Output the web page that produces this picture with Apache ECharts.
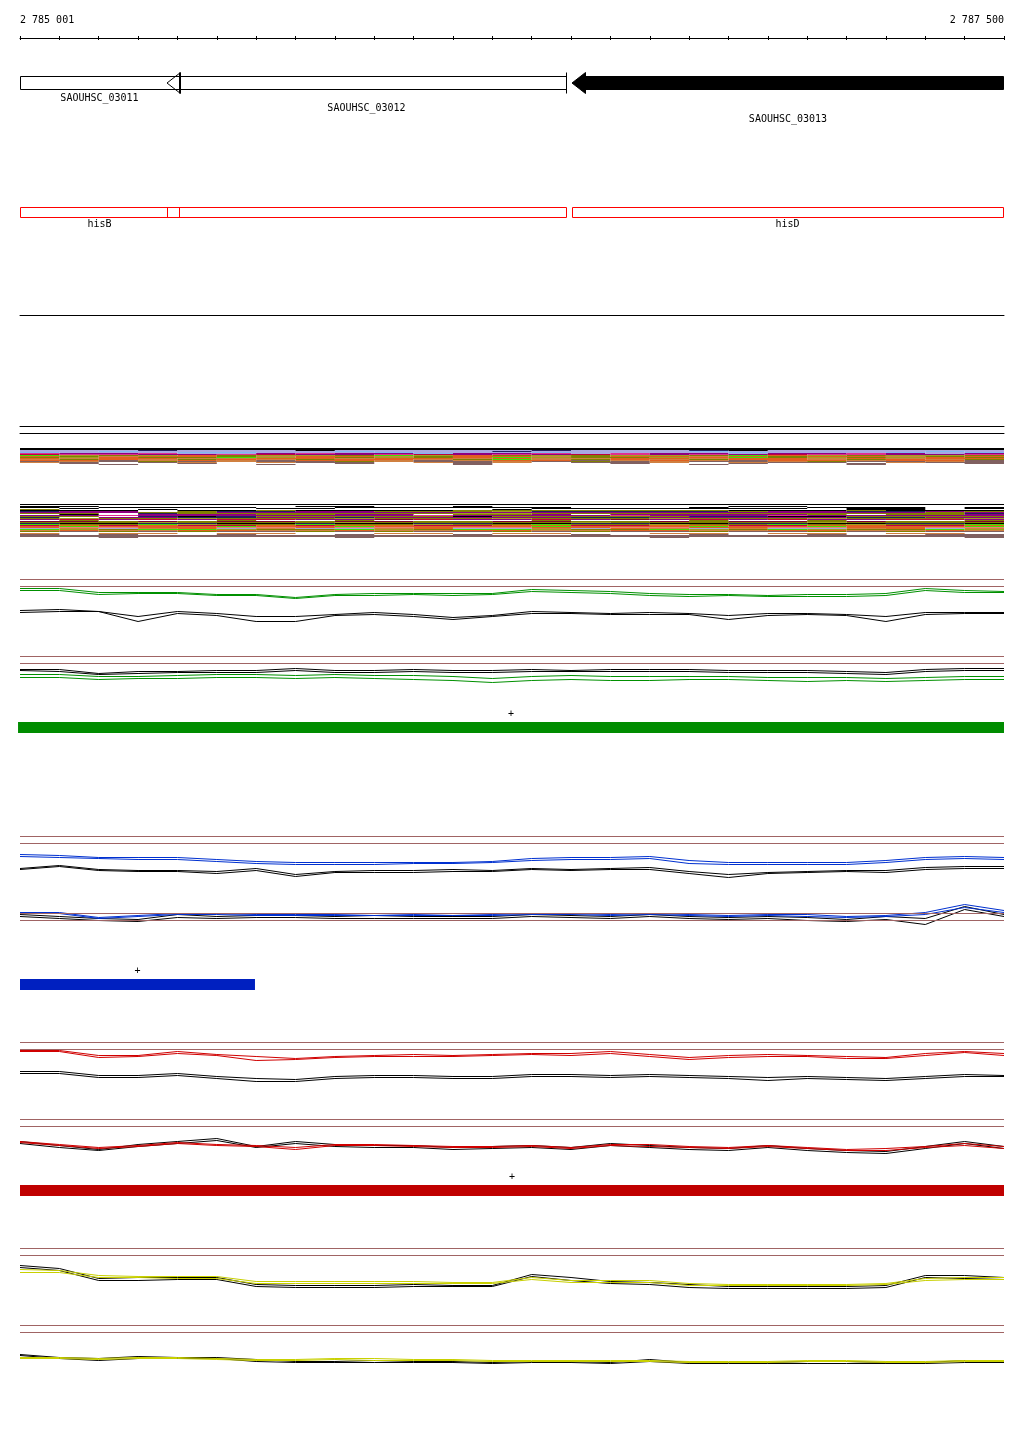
<!DOCTYPE html>
<html><head><meta charset="utf-8">
<script src="https://cdn.jsdelivr.net/npm/echarts@6/dist/echarts.min.js"></script>
<style>html,body{margin:0;padding:0;background:#fff}#c{width:1024px;height:1435px}</style>
</head><body><div id="c"></div><script>
// ---------- region / ruler ----------
const regionStart = 2785000, regionEnd = 2787500;
const rulerLabels = ['2 785 001', '2 787 500'];

// ---------- genes ----------
const geneNames = ['SAOUHSC_03011', 'SAOUHSC_03012', 'SAOUHSC_03013'];
const geneStart = [2784900, 2785373, 2786402];
const geneEnd = [2785405, 2786387, 2787700];
const geneFilled = [0, 0, 1];
const geneLabelLane = [0, 1, 2];

// ---------- features (red boxes) ----------
const featureNames = ['hisB', '', 'hisD'];
const featureStart = [2784900, 2785373, 2786402];
const featureEnd = [2785405, 2786387, 2787700];

// ---------- strand bars ----------
const greenBar = [2784995, 2787500];
const blueBar = [2785000, 2785597];
const redBar = [2785000, 2787500];

// ---------- sampled positions for the profile lines ----------
const samplePos = [2785000,2785100,2785200,2785300,2785400,2785500,2785600,2785700,2785800,2785900,2786000,2786100,2786200,2786300,2786400,2786500,2786600,2786700,2786800,2786900,2787000,2787100,2787200,2787300,2787400,2787500];
const refLineLevels = [10, 17];

// green track, upper panel
const gUpColA = [19,19,23,23,23,25,25,28,25,24,24,24,24,20,21,22,24,25,25,26,25,25,24,19,21,22];
const gUpColB = [21,21,25,24,24,26,26,29,26,26,25,26,25,22,23,24,26,27,26,27,27,27,26,21,23,23];
const gUpBlkA = [41,40,42,47,42,44,47,47,45,43,45,48,46,42,43,44,43,44,46,44,44,45,47,43,43,43];
const gUpBlkB = [43,42,42,52,44,46,52,52,46,45,47,50,47,44,44,45,45,45,50,46,45,46,52,45,44,44];
// green track, lower panel
const gLoBlkA = [23,23,27,25,25,24,24,22,24,24,23,24,24,23,24,23,23,23,24,24,24,25,26,23,22,22];
const gLoBlkB = [24,25,28,27,26,26,26,24,26,26,25,26,26,25,25,25,25,25,26,26,26,27,28,25,24,24];
const gLoColA = [28,28,30,30,29,28,28,29,28,29,29,30,32,30,29,30,30,30,30,31,31,31,32,31,30,30];
const gLoColB = [31,31,33,32,32,31,31,32,31,32,33,34,36,34,33,34,34,33,33,34,35,34,35,34,33,33];
// blue track
const bUpColA = [28,29,31,31,31,33,35,36,36,36,36,36,35,32,31,31,30,34,36,36,36,36,34,31,30,31];
const bUpColB = [30,31,32,33,33,35,37,38,38,38,37,37,36,34,33,33,32,37,38,38,38,38,36,33,32,33];
const bUpBlkA = [42,39,43,44,44,45,42,48,45,44,44,43,44,42,43,42,41,45,48,46,45,44,44,41,40,40];
const bUpBlkB = [43,40,44,45,45,47,44,50,46,46,46,45,45,43,44,43,43,47,51,47,46,45,46,43,42,42];
const bLoColA = [9,9,14,12,10,10,11,11,11,10,11,10,11,10,10,11,10,11,12,11,11,13,12,9,1,7];
const bLoColB = [10,10,15,13,11,11,12,12,12,12,12,12,12,11,11,12,11,12,13,12,13,14,13,11,4,9];
const bLoBlkA = [11,13,15,16,11,13,12,12,13,12,13,13,13,11,12,13,11,13,14,13,14,16,13,15,3,11];
const bLoBlkB = [13,15,17,18,14,15,14,14,15,15,15,15,15,13,14,15,13,15,16,15,17,18,16,21,6,13];
// red track
const rUpColA = [18,18,23,23,19,22,24,26,24,23,22,23,22,21,21,19,22,25,23,22,23,24,25,21,19,21];
const rUpColB = [19,19,25,24,21,23,28,27,25,24,24,24,23,22,23,21,24,27,25,24,24,26,26,23,20,23];
const rUpBlkA = [39,39,43,43,41,44,46,47,44,43,43,44,44,42,42,43,42,43,44,45,44,45,46,44,42,43];
const rUpBlkB = [41,41,45,45,43,46,49,49,46,45,45,46,46,44,44,45,44,45,46,48,46,47,48,46,44,44];
const rLoColA = [32,35,38,36,33,35,36,38,35,35,36,37,37,36,38,35,35,37,38,36,38,40,39,37,34,37];
const rLoColB = [33,36,39,37,34,36,37,40,36,36,37,38,38,37,39,36,37,38,39,37,39,41,41,38,36,39];
const rLoBlkA = [32,36,40,35,32,29,37,32,35,36,36,38,37,36,38,34,36,38,39,36,39,41,42,37,32,37];
const rLoBlkB = [34,38,41,37,34,31,38,34,37,38,38,40,39,38,40,36,38,40,41,38,41,43,44,39,34,39];
// yellow track
const yUpColA = [31,32,37,38,38,38,43,43,43,43,43,44,44,39,42,42,42,45,46,46,46,46,45,40,39,39];
const yUpColB = [34,34,39,39,40,40,45,45,45,45,45,45,45,41,44,44,44,47,47,47,47,47,46,42,41,41];
const yUpBlkA = [27,30,40,39,39,39,46,47,47,47,46,47,47,36,39,43,44,46,48,48,48,48,47,37,37,39];
const yUpBlkB = [29,32,42,42,41,41,48,49,49,49,48,48,48,38,42,45,46,49,50,50,50,50,49,39,40,41];
const yLoBlkA = [39,42,43,41,42,42,44,46,46,45,46,46,47,46,46,47,44,47,47,47,46,46,47,47,45,46];
const yLoBlkB = [40,43,45,43,43,43,46,47,47,47,47,47,48,47,47,48,46,48,48,48,48,48,48,48,47,47];
const yLoColA = [42,42,43,42,42,43,44,44,43,43,44,44,45,45,45,45,45,46,46,46,45,45,46,46,45,45];
const yLoColB = [43,43,44,43,43,44,45,45,44,45,45,45,46,46,46,46,46,47,47,47,46,46,47,47,46,46];

// ---------- multi-sample stripe bands (one char per 100 bp, one row per line) ----------
const bandOneRows = [
 'kkkkkkkkkkkkkkkkkkkkkkkkk',
 'kkkkkkkkkkkkkkkkkkkkkkkkk',
 'lllnlllklllllnlllnkllllll',
 'llslllllslllnllllslllllsl',
 'slllsslllslllsllllslllsls',
 'pmmpllmpmmsmmplpmmlmmpmlm',
 'rppmmprmmprmpmrpmpmrppmmp',
 'gyoyeoyyogyeoyoyyogeyoyyo',
 'eoteeoteetoeetoeeteoeetoe',
 'oyeoogyeoyoegyooyegoyoyeo',
 'eteetteeteetetteeteetetee',
 'toetoetoeetogtoetoeetoeto',
 'eebtetbeetbteebtetbeeteeb',
 'btbobtbbotbbtbobtbbtobbtb',
 'tb.bt.tbb.tbt.bbt.tbb.tbb',
 '.b..b...b..b...b..b..b..b',
 '..b...b....b.....b...b...'
];
const bandTwoRows = [
 'kkkkkkkkkkkkkkkkkkkkkkkkk',
 '.........................',
 'kk.....kk..k......kk.....',
 'k.kkkk..kkkkkk...k..kkk.k',
 '.k....kk.....kkkkkkk.kk.k',
 'o..k........k........kk..',
 'kkk.kkokkkkoooooookkkokkk',
 'nmm.onnmmoooynnnnnommnnmo',
 'mmmoommmmmmmmmmmmmmmmmmom',
 'oo.noooooooyyooooooooooon',
 '.k.mmmoomm.oom.mmmmmo.oom',
 'mmpmmmmmmmpmmmmpmmmpmmmmm',
 'oo.nknoooookooooonnkkoooo',
 'n.mmnnmmnmmmmmnnmmmmmnnmm',
 'oyooyoooyoooyoooyoooyoooy',
 'mrmrmrrmmdrmmrmdmrmrmmrrm',
 '.o...o..o....o...o..o...o',
 'ddododdoddooddoododdodood',
 'oooyooooyoooooyoooooyoooo',
 'nkknnkknkknnkknnkknnkknnk',
 'googyoogooyoogooyoogoyoog',
 'rererrereerreerreerreerre',
 'egeeegeegeeeegeeegeegeeeg',
 'ecceecceccecceecceecceecc',
 'ltlteltlltelltletltlltelt',
 'gyoggyoogyoggyoogyogyoogy',
 'tetteettetteetteetteettet',
 'obobobbobobbobobbobbobobb',
 '.........................',
 't.tt.tt..tt.tt..tt.tt.tt.',
 'b.b..b..b..b..b..b..b..bb',
 'bbbbbbbbbbbbbbbbbbbbbbbbb',
 'bbbbbbbbbbbbbbbbbbbbbbbbb',
 '..b.....b.......b.......b',
 '.........................'
];
const bandColors = {k:'#000000',n:'#202060',l:'#a8a8e0',s:'#80b8f0',m:'#900080',p:'#e03090',r:'#c00040',d:'#800030',o:'#808000',y:'#a0a020',g:'#40e000',e:'#e06020',c:'#f08070',t:'#d08040',b:'#806060'};

// ---------- styles ----------
const FONT = '10px "DejaVu Sans Mono", monospace';
const BROWN = '#a06464';
const GREEN_L = '#009000', BLUE_L = '#0030d0', RED_L = '#d00000', YEL_L = '#c8d000';
const GREEN_B = '#008c00', BLUE_B = '#0020c0', RED_B = '#c00000';

const grids = [], xAxes = [], yAxes = [], series = [];
function hiddenX(gi) { return {type:'value', gridIndex:gi, min:regionStart, max:regionEnd, show:false}; }
function lineAxis(gi, pos) {
  return {type:'value', gridIndex:gi, position:pos, min:regionStart, max:regionEnd,
    axisLine:{show:true, onZero:false, lineStyle:{color:'#000', width:1}}, axisTick:{show:false}, axisLabel:{show:false}, splitLine:{show:false}};
}
function addGrid(top, height, yMin, yMax, inverse) {
  const gi = grids.length;
  grids.push({left:20, right:20, top:top, height:height});
  xAxes.push(hiddenX(gi));
  yAxes.push({type:'value', gridIndex:gi, min:yMin, max:yMax, inverse:!!inverse, show:false});
  return {gi:gi, xi:xAxes.length-1, yi:yAxes.length-1};
}

// ruler
(function(){
  const gi = grids.length;
  grids.push({left:20, right:20, top:36, height:2});
  xAxes.push({type:'value', gridIndex:gi, position:'bottom', min:regionStart, max:regionEnd, interval:100,
    axisLine:{show:true, onZero:false, lineStyle:{color:'#000', width:1}}, axisTick:{show:true, length:2, lineStyle:{color:'#000'}},
    axisLabel:{show:false}, splitLine:{show:false}});
  xAxes.push({type:'value', gridIndex:gi, position:'top', min:regionStart, max:regionEnd, interval:100,
    axisLine:{show:false, onZero:false}, axisTick:{show:true, inside:true, length:2, lineStyle:{color:'#000'}},
    axisLabel:{show:true, margin:11, color:'#000', fontFamily:'"DejaVu Sans Mono", monospace', fontSize:10,
      showMinLabel:true, showMaxLabel:true, alignMinLabel:'left', alignMaxLabel:'right',
      formatter:function(v){ return v===regionStart ? rulerLabels[0] : (v===regionEnd ? rulerLabels[1] : ''); }},
    splitLine:{show:false}});
  yAxes.push({type:'value', gridIndex:gi, show:false, min:0, max:1});
})();

// genes
const gG = addGrid(72, 50, 0, 50, true);
series.push({type:'custom', xAxisIndex:gG.xi, yAxisIndex:gG.yi, silent:true, animation:false,
  data: geneNames.map((n,i)=>[geneStart[i], geneEnd[i], geneFilled[i], geneLabelLane[i]]),
  renderItem:function(params, api){
    const s = api.value(0), e = api.value(1), filled = api.value(2), lane = api.value(3);
    const x0 = Math.round(api.coord([Math.max(s, regionStart), 0])[0]);
    const x1 = Math.round(api.coord([Math.min(e, regionEnd), 0])[0]);
    const cy = params.coordSys.y + 10.5;
    const fill = filled ? '#000' : 'rgba(0,0,0,0)';
    const ch = [];
    const hasHead = s >= regionStart;
    const bx = hasHead ? x0 + 13 : x0;
    const right = (e <= regionEnd) ? x1 : x1 - 1;
    ch.push({type:'rect', shape:{x:bx+0.5, y:cy-6, width:right-bx, height:13}, style:{fill:fill, stroke:'#000', lineWidth:1}});
    if (hasHead) ch.push({type:'polygon', shape:{points:[[x0, cy+0.5],[x0+13.5, cy-10],[x0+13.5, cy+11]]}, style:{fill:fill, stroke:'#000', lineWidth:1}});
    if (e <= regionEnd) ch.push({type:'line', shape:{x1:x1+0.5, y1:cy-10, x2:x1+0.5, y2:cy+11}, style:{stroke:'#000', lineWidth:1}});
    ch.push({type:'text', x:(x0+x1)/2, y:cy+15.5+lane*10.5, style:{text:geneNames[params.dataIndex], font:FONT, fill:'#000', align:'center', verticalAlign:'middle'}});
    return {type:'group', children:ch};
  }});

// features
const gF = addGrid(200, 40, 0, 40, true);
series.push({type:'custom', xAxisIndex:gF.xi, yAxisIndex:gF.yi, silent:true, animation:false,
  data: featureNames.map((n,i)=>[featureStart[i], featureEnd[i]]),
  renderItem:function(params, api){
    const x0 = Math.round(api.coord([Math.max(api.value(0), regionStart), 0])[0]);
    let x1 = Math.round(api.coord([Math.min(api.value(1), regionEnd), 0])[0]);
    if (api.value(1) > regionEnd) x1 -= 1;
    const y0 = params.coordSys.y + 7;
    const ch = [{type:'rect', shape:{x:x0+0.5, y:y0+0.5, width:x1-x0, height:10}, style:{fill:'rgba(0,0,0,0)', stroke:'#ff0000', lineWidth:1}}];
    const nm = featureNames[params.dataIndex];
    if (nm) ch.push({type:'text', x:(x0+x1)/2, y:y0+17, style:{text:nm, font:FONT, fill:'#000', align:'center', verticalAlign:'middle'}});
    return {type:'group', children:ch};
  }});

// separator lines at 315, 426, 433
(function(){
  const gi = grids.length;
  grids.push({left:20, right:20, top:300, height:15});
  xAxes.push(lineAxis(gi, 'bottom'));
  yAxes.push({type:'value', gridIndex:gi, show:false, min:0, max:1});
  const gj = grids.length;
  grids.push({left:20, right:20, top:426, height:7});
  xAxes.push(lineAxis(gj, 'top'));
  xAxes.push(lineAxis(gj, 'bottom'));
  yAxes.push({type:'value', gridIndex:gj, show:false, min:0, max:1});
})();

// bands
function buildCells(rows) {
  const out = [];
  rows.forEach(function(row, r){
    let i = 0;
    while (i < row.length) {
      let j = i;
      while (j < row.length && row[j] === row[i]) j++;
      if (row[i] !== '.') out.push([regionStart + i*100, regionStart + j*100, r, row[i]]);
      i = j;
    }
  });
  return out;
}
function addBand(top, rows) {
  const g = addGrid(top, rows.length, 0, rows.length, true);
  const cells = buildCells(rows);
  series.push({type:'custom', xAxisIndex:g.xi, yAxisIndex:g.yi, silent:true, animation:false,
    data: cells.map(c=>[c[0], c[1], c[2]]),
    renderItem:function(params, api){
      const p0 = api.coord([api.value(0), api.value(2)]);
      const p1 = api.coord([api.value(1), api.value(2)+1]);
      return {type:'rect', shape:{x:p0[0], y:p0[1], width:p1[0]-p0[0], height:p1[1]-p0[1]}, style:{fill:bandColors[cells[params.dataIndex][3]]}};
    }});
}
addBand(448, bandOneRows);
addBand(504, bandTwoRows);

// profile panels
function addPanel(top, blackLines, colLines, color) {
  const g = addGrid(top + 0.5, 60, 0, 60, true);
  const all = blackLines.map(a=>[a,'#000']).concat(colLines.map(a=>[a,color]));
  all.forEach(function(pair, k){
    const s = {type:'line', xAxisIndex:g.xi, yAxisIndex:g.yi, silent:true, animation:false, symbol:'none', showSymbol:false,
      data: samplePos.map((x,i)=>[x, pair[0][i]]), lineStyle:{color:pair[1], width:1}};
    if (k === 0) s.markLine = {symbol:'none', silent:true, animation:false, label:{show:false},
      lineStyle:{color:BROWN, width:1, type:'solid'}, data: refLineLevels.map(v=>({yAxis:v}))};
    series.push(s);
  });
}
function addStrandBar(top, range, color) {
  const g = addGrid(top, 11, 0, 1, false);
  series.push({type:'custom', xAxisIndex:g.xi, yAxisIndex:g.yi, silent:true, animation:false,
    data:[[range[0], range[1]]],
    renderItem:function(params, api){
      const p0 = api.coord([api.value(0), 1]);
      const p1 = api.coord([api.value(1), 0]);
      return {type:'group', children:[
        {type:'rect', shape:{x:p0[0], y:p0[1], width:p1[0]-p0[0], height:p1[1]-p0[1]}, style:{fill:color}},
        {type:'text', x:(p0[0]+p1[0])/2, y:p0[1]-8, style:{text:'+', font:FONT, fill:'#000', align:'center', verticalAlign:'middle'}}
      ]};
    }});
}

addPanel(569, [gUpBlkA, gUpBlkB], [gUpColA, gUpColB], GREEN_L);
addPanel(646, [gLoBlkA, gLoBlkB], [gLoColA, gLoColB], GREEN_L);
addStrandBar(722, greenBar, GREEN_B);
addPanel(826, [bUpBlkA, bUpBlkB], [bUpColA, bUpColB], BLUE_L);
addPanel(903, [bLoBlkA, bLoBlkB], [bLoColA, bLoColB], BLUE_L);
addStrandBar(979, blueBar, BLUE_B);
addPanel(1032, [rUpBlkA, rUpBlkB], [rUpColA, rUpColB], RED_L);
addPanel(1109, [rLoBlkA, rLoBlkB], [rLoColA, rLoColB], RED_L);
addStrandBar(1185, redBar, RED_B);
addPanel(1238, [yUpBlkA, yUpBlkB], [yUpColA, yUpColB], YEL_L);
addPanel(1315, [yLoBlkA, yLoBlkB], [yLoColA, yLoColB], YEL_L);

const chart = echarts.init(document.getElementById('c'), null, {renderer:'canvas'});
chart.setOption({backgroundColor:'#ffffff', animation:false, grid:grids, xAxis:xAxes, yAxis:yAxes, series:series});
</script></body></html>
